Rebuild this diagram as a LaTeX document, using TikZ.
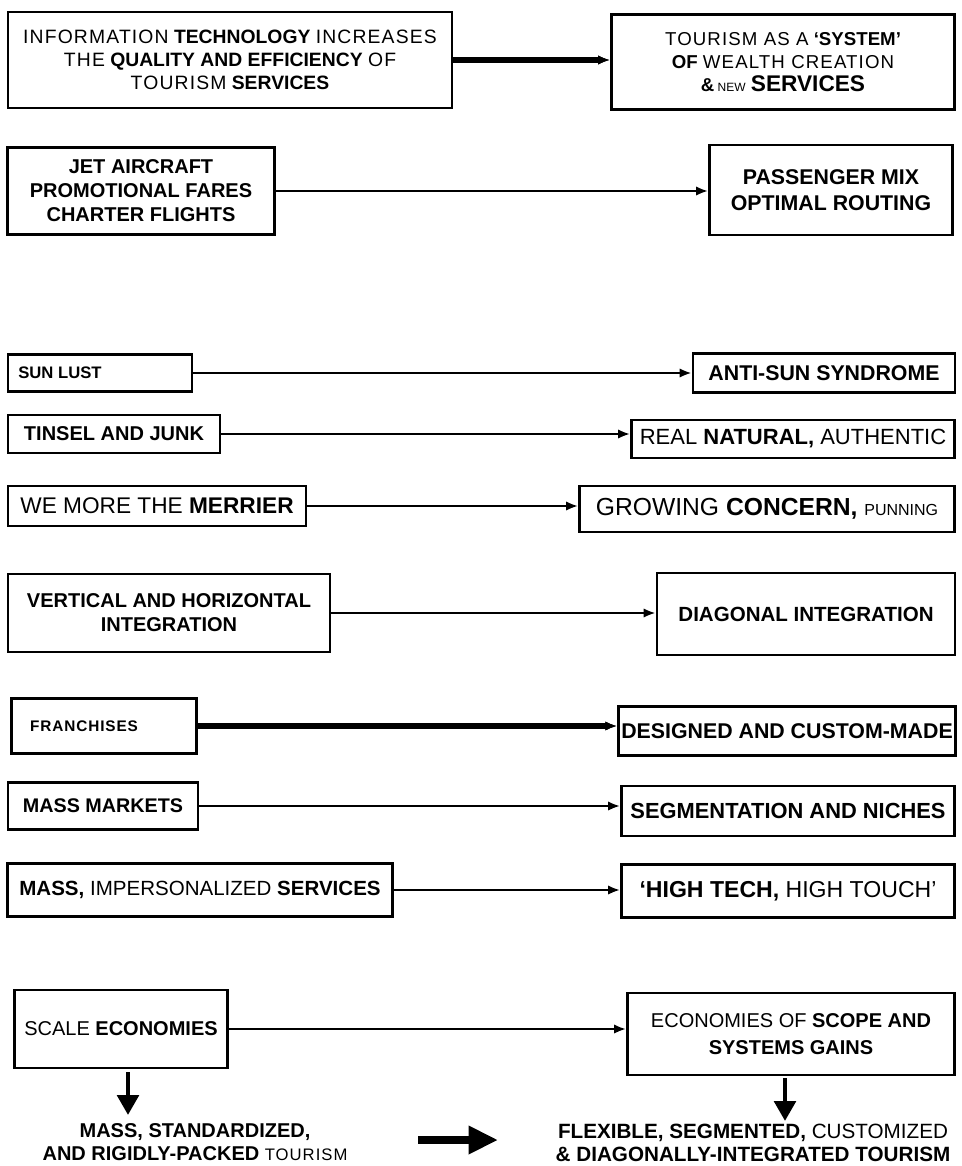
\documentclass[tikz,border=0pt]{standalone}
\usepackage{fontspec}
\setmainfont{Liberation Sans}
\newfontfamily\lt[LetterSpace=6]{Liberation Sans}
\usetikzlibrary{arrows.meta, positioning, calc}
\newcommand{\hb}[1]{{\bfseries #1}}

\begin{document}
\begin{tikzpicture}[x=0.75pt, y=-0.75pt,
    box/.style={draw, line width=2pt, align=center, inner sep=2pt,
        font=\fontsize{14.5}{17}\selectfont},
    wh/.style 2 args={minimum width=#1*0.75pt, minimum height=#2*0.75pt},
    link/.style={line width=2.2pt, -{Latex[length=9pt,width=7pt]}},
    down/.style={line width=3.5pt, -{Triangle[length=15pt,width=16pt]}},
    result/.style={align=center, font=\fontsize{15}{17}\selectfont}]
    \useasboundingbox (0,0) rectangle (961,1166);
    % left column
    \node[box, wh={444}{96}] (l1) at (230,60) {{\lt INFORMATION} \hb{TECHNOLOGY} {\lt INCREASES}\\
        {\lt THE} \hb{QUALITY AND EFFICIENCY} {\lt OF}\\ {\lt TOURISM} \hb{SERVICES}};
    \node[box, wh={267}{87}, font=\bfseries\fontsize{15}{18}\selectfont] (l2) at (141,191)
        {JET AIRCRAFT\\PROMOTIONAL FARES\\CHARTER FLIGHTS};
    \node[box, wh={184}{37}, font=\bfseries\fontsize{12.5}{14}\selectfont] (l3) at (100,373) {\hspace{-60pt}SUN LUST};
    \node[box, wh={212}{38}, font=\bfseries\fontsize{15}{16}\selectfont] (l4) at (114,434) {TINSEL AND JUNK};
    \node[box, wh={298}{40}, font=\fontsize{17}{18}\selectfont] (l5) at (157,506) {WE MORE THE \hb{MERRIER}};
    \node[box, wh={322}{78}, font=\bfseries\fontsize{15}{18}\selectfont] (l6) at (169,613)
        {VERTICAL AND HORIZONTAL\\INTEGRATION};
    \node[box, wh={185}{55}, font=\bfseries\fontsize{11.5}{12}\selectfont] (l7) at (104,726) {\hspace{-30pt}{\lt FRANCHISES}};
    \node[box, wh={190}{47}, font=\bfseries\fontsize{14.8}{16}\selectfont] (l8) at (103,806) {MASS MARKETS};
    \node[box, wh={385}{53}, font=\fontsize{15.4}{17}\selectfont] (l9) at (200,890) {\hb{MASS,} IMPERSONALIZED \hb{SERVICES}};
    \node[box, wh={213}{78}, font=\fontsize{15}{17}\selectfont] (l10) at (121,1029) {SCALE \hb{ECONOMIES}};
    % right column
    \node[box, wh={343}{95}, font=\fontsize{14}{17}\selectfont] (r1) at (783,62) {{\lt TOURISM AS A} \hb{`SYSTEM'}\\
        \hb{OF} {\lt WEALTH CREATION}\\ \hb{\&}{\small\ NEW} \hb{\fontsize{17}{17}\selectfont SERVICES}};
    \node[box, wh={243}{90}, font=\bfseries\fontsize{16}{19}\selectfont] (r2) at (831,190)
        {PASSENGER MIX\\OPTIMAL ROUTING};
    \node[box, wh={262}{39}, font=\bfseries\fontsize{16}{17}\selectfont] (r3) at (824,373) {ANTI-SUN SYNDROME};
    \node[box, wh={323}{38}, font=\fontsize{16.5}{17}\selectfont] (r4) at (793,439) {REAL \hb{NATURAL,} AUTHENTIC};
    \node[box, wh={375}{46}, font=\fontsize{18.5}{19}\selectfont] (r5) at (767,509) {GROWING \hb{CONCERN,} {\fontsize{12}{12}\selectfont PUNNING}};
    \node[box, wh={298}{82}, font=\bfseries\fontsize{15.4}{17}\selectfont] (r6) at (806,614) {DIAGONAL INTEGRATION};
    \node[box, wh={335}{49}, font=\bfseries\fontsize{16}{17}\selectfont] (r7) at (787,731) {DESIGNED AND CUSTOM-MADE};
    \node[box, wh={333}{50}, font=\bfseries\fontsize{16.4}{17}\selectfont] (r8) at (788,811) {SEGMENTATION AND NICHES};
    \node[box, wh={333}{53}, font=\fontsize{17.3}{18}\selectfont] (r9) at (788,891) {\hb{`HIGH TECH,} HIGH TOUCH'};
    \node[box, wh={327}{82}, font=\fontsize{15}{20}\selectfont] (r10) at (791,1034)
        {ECONOMIES OF \hb{SCOPE AND}\\ \hb{SYSTEMS GAINS}};
    % outcomes
    \node[result] (b1) at (195,1142) {\hb{MASS, STANDARDIZED,}\\ \hb{AND RIGIDLY-PACKED} {\lt\fontsize{12.5}{12}\selectfont TOURISM}};
    \node[result, font=\fontsize{15.5}{17}\selectfont] (b2) at (753,1143)
        {\hb{FLEXIBLE, SEGMENTED,} CUSTOMIZED\\ \hb{\& DIAGONALLY-INTEGRATED TOURISM}};
    \coordinate (d1s) at (128,1072);
    \coordinate (d1e) at (128,1115);
    \coordinate (d2s) at (785,1078);
    \coordinate (d2e) at (785,1121);
    \coordinate (ms) at (418,1140);
    \coordinate (me) at (498,1140);
    \foreach \i in {1,...,10}{
        \draw[link] (l\i.east) -- (l\i.east -| r\i.west);
    };
    \draw[link, line width=4pt] (l1.east) -- (l1.east -| r1.west);
    \draw[link, line width=4.5pt] (l7.east) -- (l7.east -| r7.west);
    \draw[down] (d1s) -- (d1e);
    \draw[down] (d2s) -- (d2e);
    \draw[down, line width=6pt, -{Triangle[length=22pt,width=20pt]}] (ms) -- (me);
\end{tikzpicture}
\end{document}
